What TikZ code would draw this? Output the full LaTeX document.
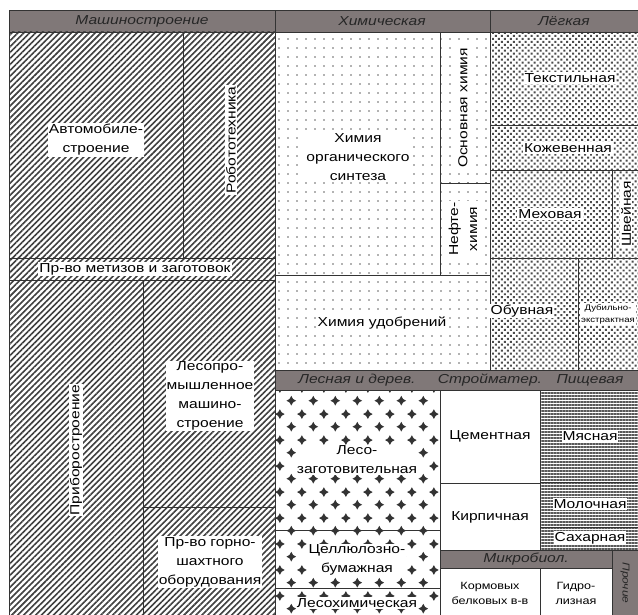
\documentclass[tikz,border=0pt]{standalone}
\usepackage{fontspec}
\setmainfont[FakeStretch=1.2]{Liberation Sans}
\usetikzlibrary{patterns.meta}

\definecolor{hdgray}{RGB}{128,120,120}

% plus-shaped stars for the forest branch
\pgfdeclarepattern{
  name=lesplus, type=uncolored,
  bottom left={\pgfpointorigin},
  top right={\pgfpoint{22pt}{26pt}},
  tile size={\pgfpoint{22pt}{26pt}},
  code={
    \pgfpathmoveto{\pgfpoint{5.5pt}{1.5pt}}
    \pgfpathlineto{\pgfpoint{7.3pt}{4.7pt}}
    \pgfpathlineto{\pgfpoint{10.5pt}{6.5pt}}
    \pgfpathlineto{\pgfpoint{7.3pt}{8.3pt}}
    \pgfpathlineto{\pgfpoint{5.5pt}{11.5pt}}
    \pgfpathlineto{\pgfpoint{3.7pt}{8.3pt}}
    \pgfpathlineto{\pgfpoint{0.5pt}{6.5pt}}
    \pgfpathlineto{\pgfpoint{3.7pt}{4.7pt}}
    \pgfpathclose
    \pgfpathmoveto{\pgfpoint{16.5pt}{14.5pt}}
    \pgfpathlineto{\pgfpoint{18.3pt}{17.7pt}}
    \pgfpathlineto{\pgfpoint{21.5pt}{19.5pt}}
    \pgfpathlineto{\pgfpoint{18.3pt}{21.3pt}}
    \pgfpathlineto{\pgfpoint{16.5pt}{24.5pt}}
    \pgfpathlineto{\pgfpoint{14.7pt}{21.3pt}}
    \pgfpathlineto{\pgfpoint{11.5pt}{19.5pt}}
    \pgfpathlineto{\pgfpoint{14.7pt}{17.7pt}}
    \pgfpathclose
    \pgfusepath{fill}
  }
}

\begin{document}
\begin{tikzpicture}[
		x=1pt, y=-1pt,
		cell/.style={draw=black!80, line width=0.7pt},
		mash/.style={cell, pattern={Lines[angle=45, distance=4.2pt, line width=1.6pt]}, pattern color=black!75},
		chem/.style={cell, pattern={Dots[distance=9pt, radius=0.9pt]}, pattern color=black!60},
		legk/.style={cell, pattern={Dots[distance=4.2pt, radius=1.4pt, angle=45]}, pattern color=black!70},
		les/.style={cell, pattern=lesplus, pattern color=black!80},
		pisch/.style={cell, pattern={Lines[angle=0, distance=3pt, line width=1.3pt]}, pattern color=black!65},
		stroy/.style={cell, fill=white},
		head/.style={cell, fill=hdgray},
		lbl/.style={fill=white, inner sep=1pt, align=center, font=\fontsize{13}{19}\selectfont},
		small/.style={lbl, font=\fontsize{10.5}{15}\selectfont},
		htxt/.style={text=black!85, inner sep=0pt, font=\fontsize{13}{15}\selectfont\itshape}
	]
  \fill[white] (0,0) rectangle (638,615);
  \useasboundingbox (0,0) rectangle (638,615);

  % headers
  \draw[head] (9,10) rectangle (275,32);
  \draw[head] (275,10) rectangle (490,32);
  \draw[head] (490,10) rectangle (638,32);
  \draw[head] (275,370) rectangle (638,390);
  \draw[head] (440,550) rectangle (612,568);
  \draw[head] (612,550) rectangle (638,615);

  % machine building
  \draw[mash] (9,32) rectangle (183,258);
  \draw[mash] (183,32) rectangle (275,258);
  \draw[mash] (9,258) rectangle (275,280);
  \draw[mash] (9,280) rectangle (143,615);
  \draw[mash] (143,280) rectangle (275,507);
  \draw[mash] (143,507) rectangle (275,615);

  % chemistry
  \draw[chem] (275,32) rectangle (440,275);
  \draw[chem] (440,32) rectangle (490,183);
  \draw[chem] (440,183) rectangle (490,275);
  \draw[chem] (275,275) rectangle (490,370);

  % light industry
  \draw[legk] (490,32) rectangle (638,125);
  \draw[legk] (490,125) rectangle (638,170);
  \draw[legk] (490,170) rectangle (612,258);
  \draw[legk] (612,170) rectangle (638,258);
  \draw[legk] (490,258) rectangle (578,370);
  \draw[legk] (578,258) rectangle (638,370);

  % forest
  \draw[les] (275,390) rectangle (440,530);
  \draw[les] (275,530) rectangle (440,588);
  \draw[les] (275,588) rectangle (440,615);

  % building materials
  \draw[stroy] (440,390) rectangle (540,483);
  \draw[stroy] (440,483) rectangle (540,550);

  % food
  \draw[pisch] (540,390) rectangle (638,482);
  \draw[pisch] (540,482) rectangle (638,527);
  \draw[pisch] (540,527) rectangle (638,550);

  % microbiology
  \draw[stroy] (440,568) rectangle (540,615);
  \draw[stroy] (540,568) rectangle (612,615);

  % header texts
  \node (h_mash) [htxt] at (142,21) {Машиностроение};
  \node (h_chem) [htxt] at (382,21) {Химическая};
  \node (h_legk) [htxt] at (564,21) {Лёгкая};
  \node (h_les) [htxt] at (357,380) {Лесная и дерев.};
  \node (h_stroy) [htxt] at (490,380) {Стройматер.};
  \node (h_pisch) [htxt] at (590,380) {Пищевая};
  \node (h_mikro) [htxt] at (526,559) {Микробиол.};
  \node (h_proch) [htxt, rotate=-90, font=\fontsize{10}{12}\selectfont\itshape] at (625,583) {Прочие};

  % machine building labels
  \node (avto) [lbl] at (96,140) {Автомобиле-\\строение};
  \node (robot) [lbl, rotate=90] at (231,140) {Робототехника};
  \node (metiz) [lbl] at (135,269) {Пр-во метизов и заготовок};
  \node (pribor) [lbl, rotate=90] at (76,450) {Приборостроение};
  \node (lespm) [lbl] at (210,396) {Лесопро-\\мышленное\\машино-\\строение};
  \node (gorno) [lbl] at (210,562) {Пр-во горно-\\шахтного\\оборудования};

  % chemistry labels
  \node (orgsint) [lbl] at (358,157) {Химия\\органического\\синтеза};
  \node (osnhim) [lbl, rotate=90] at (463,108) {Основная химия};
  \node (neft) [lbl, rotate=90] at (463,229) {Нефте-\\химия};
  \node (udobr) [lbl] at (382,323) {Химия удобрений};

  % light industry labels
  \node (tekst) [lbl] at (570,78) {Текстильная};
  \node (kozh) [lbl] at (568,148) {Кожевенная};
  \node (meh) [lbl] at (550,214) {Меховая};
  \node (shveyn) [lbl, rotate=90] at (626,214) {Швейная};
  \node (obuv) [lbl] at (522,311) {Обувная};
  \node (dubil) [small, anchor=west, font=\fontsize{8}{12}\selectfont] at (580,314) {Дубильно-\\экстрактная};

  % forest labels
  \node (leszag) [lbl] at (357,460) {Лесо-\\заготовительная};
  \node (cellul) [lbl] at (357,560) {Целлюлозно-\\бумажная};
  \node (leshim) [lbl] at (357,603) {Лесохимическая};

  % building materials labels
  \node (cement) [lbl] at (490,436) {Цементная};
  \node (kirp) [lbl] at (490,517) {Кирпичная};

  % food labels
  \node (myas) [lbl] at (590,436) {Мясная};
  \node (molok) [lbl] at (590,504) {Молочная};
  \node (sahar) [lbl] at (590,538) {Сахарная};

  % microbiology labels
  \node (korm) [small] at (490,593) {Кормовых\\белковых в-в};
  \node (gidro) [small] at (576,593) {Гидро-\\лизная};
\end{tikzpicture}
\end{document}
